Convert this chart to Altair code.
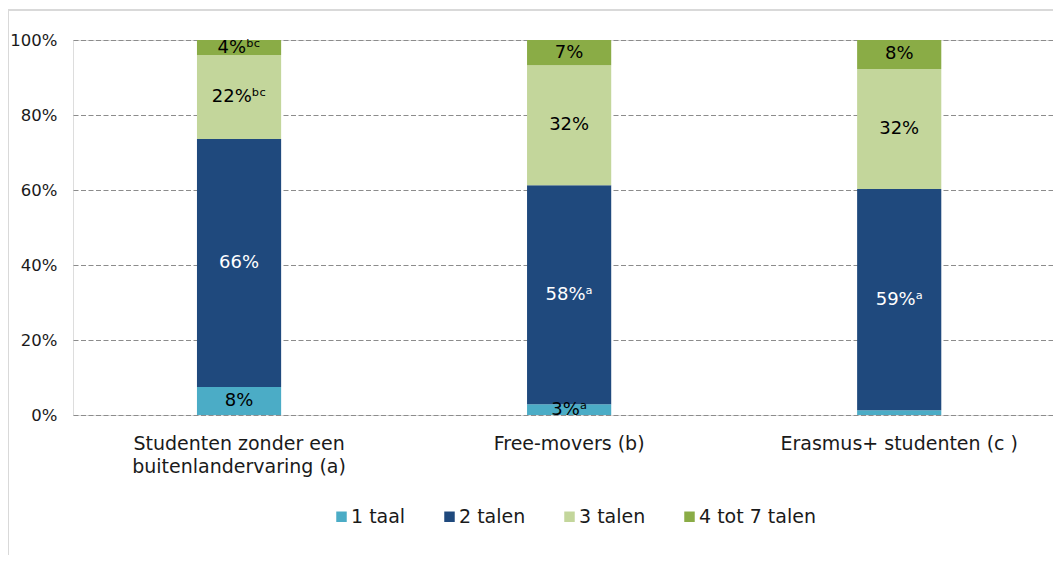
import altair as alt
import pandas as pd

categories = ["Studenten zonder een buitenlandervaring (a)", "Free-movers (b)", "Erasmus+ studenten (c )"]
series = ["1 taal", "2 talen", "3 talen", "4 tot 7 talen"]
colors = ["#4bacc6", "#1f497d", "#c3d69b", "#8aac46"]
values = {
    "1 taal": [7.5, 2.9, 1.3],
    "2 talen": [66.1, 58.4, 59.0],
    "3 talen": [22.4, 32.0, 32.0],
    "4 tot 7 talen": [4.0, 6.7, 7.7],
}
labels = {
    "1 taal": ["8%", "3%ᵃ", ""],
    "2 talen": ["66%", "58%ᵃ", "59%ᵃ"],
    "3 talen": ["22%ᵇᶜ", "32%", "32%"],
    "4 tot 7 talen": ["4%ᵇᶜ", "7%", "8%"],
}
y_ticks = [0, 0.2, 0.4, 0.6, 0.8, 1.0]

rows = []
for ci, cat in enumerate(categories):
    cum = 0.0
    for si, s in enumerate(series):
        v = values[s][ci] / 100.0
        rows.append({"cat": cat, "series": s, "order": si, "value": v,
                     "lo": cum, "hi": cum + v, "mid": cum + v / 2,
                     "label": labels[s][ci],
                     "tcolor": "white" if s == "2 talen" else "black"})
        cum += v
df = pd.DataFrame(rows)

FONT = "DejaVu Sans"
label_expr = ("datum.label == 'Studenten zonder een buitenlandervaring (a)' ? "
              "['Studenten zonder een', 'buitenlandervaring (a)'] : datum.label")

xscale = alt.Scale(paddingInner=0.745, paddingOuter=0.357, align=0.526)

x = alt.X("cat:N", sort=categories, title=None, scale=xscale,
          axis=alt.Axis(labelAngle=0, labelExpr=label_expr, domain=False, ticks=False,
                        labelPadding=19, labelFontSize=19, labelLineHeight=23.5,
                        labelColor="#1a1a1a", labelFont=FONT, labelLimit=400))

bars = alt.Chart(df).mark_bar().encode(
    x=x,
    y=alt.Y("lo:Q", title=None, scale=alt.Scale(domain=[0, 1], nice=False),
            axis=alt.Axis(values=y_ticks, format=".0%", domain=False, ticks=False,
                          labelPadding=16, labelFontSize=16.5, labelColor="#1a1a1a",
                          labelFont=FONT, grid=True, gridDash=[5, 2.5],
                          gridColor="#8c8c8c", gridWidth=1.2)),
    y2="hi:Q",
    color=alt.Color("series:N", sort=series,
                    scale=alt.Scale(domain=series, range=colors),
                    legend=alt.Legend(title=None, orient="none", direction="horizontal",
                                      legendX=259, legendY=467, symbolType="square",
                                      symbolSize=110, symbolStrokeWidth=0,
                                      labelFontSize=19, labelFont=FONT,
                                      labelColor="#1a1a1a", columnPadding=34,
                                      labelOffset=0)),
)

text = alt.Chart(df).mark_text(fontSize=18, font=FONT).encode(
    x=alt.X("cat:N", sort=categories, scale=xscale),
    y=alt.Y("mid:Q"),
    text="label:N",
    color=alt.Color("tcolor:N", scale=None),
)

frame_left = alt.Chart(df).mark_rule(color="#d9d9d9", strokeWidth=1.5).encode(
    x=alt.value(-65), y=alt.value(-30), y2=alt.value(520))
frame_top = alt.Chart(df).mark_rule(color="#d9d9d9", strokeWidth=1.5).encode(
    x=alt.value(-65), x2=alt.value(990), y=alt.value(-30))

chart = alt.layer(frame_left, frame_top, bars, text).properties(
    width=980, height=375,
    autosize=alt.AutoSizeParams(type="none"),
    padding={"left": 65, "top": 32, "right": 0, "bottom": 140},
).configure_view(stroke=None).configure(background="white")

chart.save("out.html", embed_options={"renderer": "svg", "actions": False})
